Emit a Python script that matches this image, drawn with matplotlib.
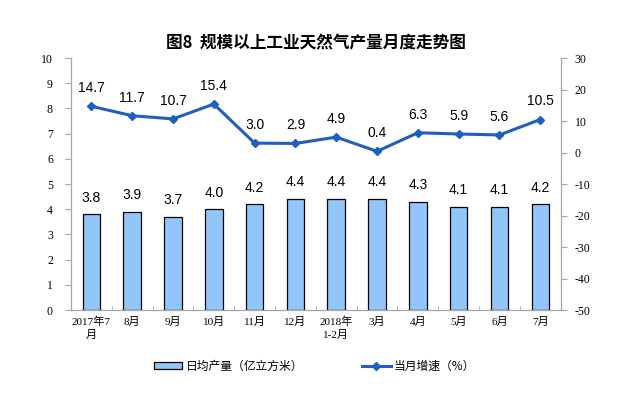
import matplotlib
matplotlib.use("Agg")
import matplotlib.pyplot as plt
from matplotlib.lines import Line2D
from matplotlib.patches import Patch
import numpy as np

plt.rcParams['font.family'] = ['Liberation Serif', 'Noto Sans CJK SC', 'DejaVu Sans']
plt.rcParams['axes.unicode_minus'] = False

categories = ["2017年7\n月", "8月", "9月", "10月", "11月", "12月", "2018年\n1-2月",
              "3月", "4月", "5月", "6月", "7月"]
daily_output = [3.8, 3.9, 3.7, 4.0, 4.2, 4.4, 4.4, 4.4, 4.3, 4.1, 4.1, 4.2]
growth = [14.7, 11.7, 10.7, 15.4, 3.0, 2.9, 4.9, 0.4, 6.3, 5.9, 5.6, 10.5]
left_ticks = list(range(0, 11))
right_ticks = list(range(-50, 31, 10))
title = "图8  规模以上工业天然气产量月度走势图"
bar_label = "日均产量（亿立方米）"
line_label = "当月增速（%）"

fig = plt.figure(figsize=(6.23, 3.98), dpi=100)
ax = fig.add_axes([0.114, 0.221, 0.786, 0.633])
ax2 = ax.twinx()

x = np.arange(len(categories))
bar_color = '#92C5F9'
line_color = '#1F5FBF'
gray = '#A6A6A6'

ax.bar(x, daily_output, width=0.43, color=bar_color, edgecolor='black', linewidth=0.9, zorder=2)
for xi, v in zip(x, daily_output):
    ax.annotate(f"{v:.1f}", (xi, v), xytext=(0, 7), textcoords='offset points',
                ha='center', va='bottom', fontsize=10, family='Liberation Sans')

ax2.plot(x, growth, color=line_color, linewidth=2.2, marker='D', markersize=4.5, zorder=3)
for xi, v in zip(x, growth):
    ax2.annotate(f"{v:.1f}", (xi, v), xytext=(0, 8), textcoords='offset points',
                 ha='center', va='bottom', fontsize=10, family='Liberation Sans')

ax.set_xlim(-0.5, len(categories) - 0.5)
ax.set_ylim(0, 10)
ax2.set_ylim(-50, 30)
ax.set_yticks(left_ticks)
ax2.set_yticks(right_ticks)
ax.set_xticks(x)
ax.set_xticklabels(categories, fontsize=8, linespacing=1.3)
ax.set_xticks(np.arange(-0.5, len(categories), 1), minor=True)

for a in (ax, ax2):
    a.spines['top'].set_visible(False)
    for s in ('left', 'right', 'bottom'):
        a.spines[s].set_color(gray)
        a.spines[s].set_linewidth(0.9)
ax.spines['right'].set_visible(False)
ax2.spines['left'].set_visible(False)
ax2.spines['bottom'].set_visible(False)

ax.tick_params(axis='y', labelsize=8.5, length=4, color=gray, pad=9)
ax2.tick_params(axis='y', labelsize=8.5, length=4, color=gray, pad=6)
ax.tick_params(axis='x', which='major', length=0, pad=5)
ax.tick_params(axis='x', which='minor', length=3, direction='in', color=gray)

fig.text(0.507, 0.892, title, ha='center', va='center', fontsize=12, fontweight='bold',
         family=['Noto Sans CJK SC', 'DejaVu Sans'])

handles = [Patch(facecolor=bar_color, edgecolor='black', linewidth=0.9),
           Line2D([], [], color=line_color, linewidth=2.2, marker='D', markersize=4)]
fig.legend(handles, [bar_label, line_label], loc='center', bbox_to_anchor=(0.505, 0.08),
           ncol=2, frameon=False, columnspacing=5, handlelength=2.4,
           handleheight=0.5, handletextpad=0.3,
           prop={'family': ['Noto Sans CJK SC', 'DejaVu Sans'], 'size': 8.5})

fig.savefig("out.png", dpi=100)
